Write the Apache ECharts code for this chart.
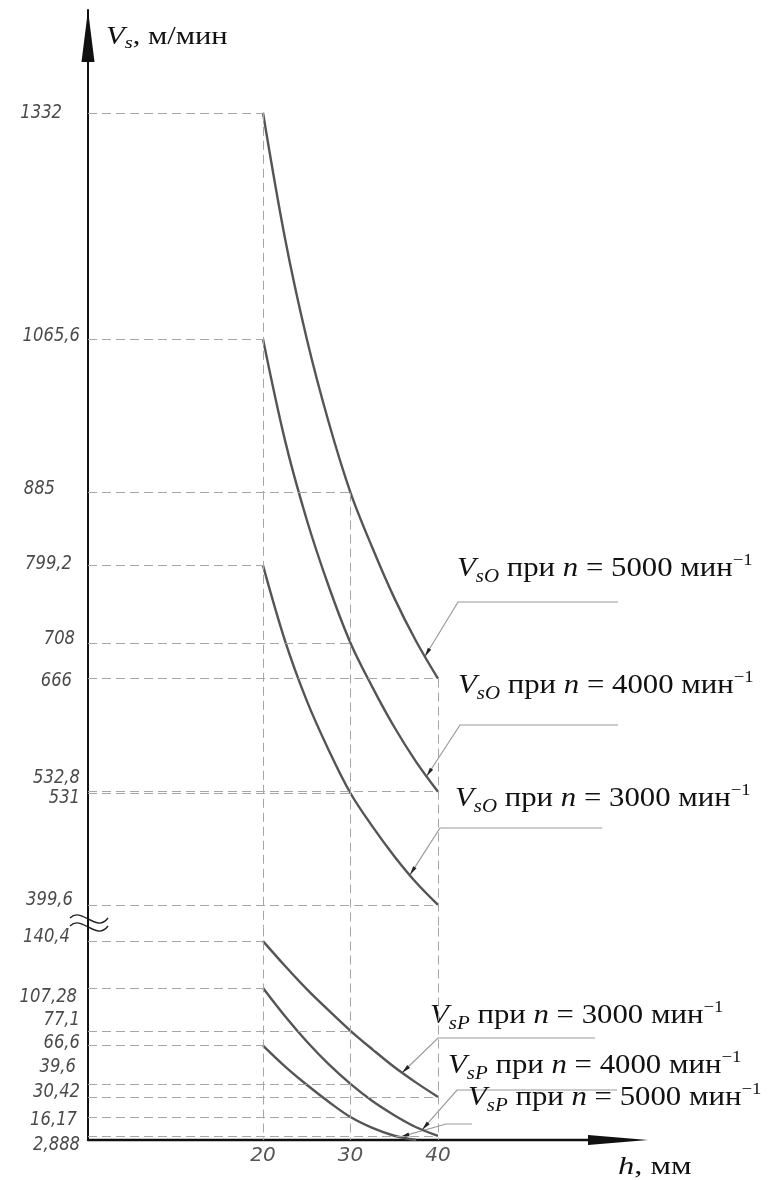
<!DOCTYPE html>
<html lang="ru">
<head>
  <meta charset="UTF-8">
  <meta name="viewport" content="width=device-width, initial-scale=1.0">
  <script src="https://cdn.jsdelivr.net/npm/echarts@6/dist/echarts.min.js"></script>
  <title>Vs(h)</title>
  <style>
    html, body { margin: 0; padding: 0; background: #fff; }
    #chart { width: 773px; height: 1180px; }
  </style>
</head>
<body>
  <div id="chart"></div>
  <script>
    // h, мм
    const h = [20, 22.5, 25, 27.5, 30, 32.5, 35, 37.5, 40];
    // V_sO, м/мин (upper part of the axis)
    const vsO5000 = [1332, 1185, 1066, 968, 885, 820, 761, 710, 666];
    const vsO4000 = [1065.6, 947, 853, 775, 708, 656, 609, 568, 532.8];
    const vsO3000 = [799.2, 711, 640, 582, 531, 492, 457, 426, 399.6];
    // V_sP, м/мин (lower part, below the break)
    const vsP3000 = [140.4, 123, 106.5, 91.5, 77.1, 64, 51.5, 40.5, 30.42];
    const vsP4000 = [107.28, 87.5, 69.5, 53.5, 39.6, 27.5, 17.5, 9, 2.888];
    const vsP5000 = [66.6, 52, 39, 27, 16.17, 8.5, 3, 0, null];

    // marked values and the h where their dashed guide ends
    const upperTicks = [1332, 1065.6, 885, 799.2, 708, 666, 532.8, 531, 399.6];
    const upperTickEnd = [20, 20, 30, 20, 30, 40, 40, 30, 40];
    const lowerTicks = [140.4, 107.28, 77.1, 66.6, 39.6, 30.42, 16.17, 2.888];
    const lowerTickEnd = [20, 20, 30, 20, 30, 40, 30, 40];
    const xTicks = [20, 30, 40];
    // vertical guides: h and the value they start from
    const vGuideH = [20, 30, 40];
    const vGuideTop = [1332, 885, 666];

    // layout only: label nudges (px) and right edges
    const upperShift = [0, -3, -4, -2, -4, 2, -14, 5, -5];
    const upperRight = [62, 80, 55, 72, 75, 72, 80, 80, 73];
    const lowerShift = [-4, 9, -11, -3, -17, -5, 3, 9];
    const lowerRight = [70, 77, 80, 80, 76, 80, 77, 80];

    const TOP_Y = [373, 1453];
    const BOT_Y = [0, 150];
    const X_MAX = 60;

    const chart = echarts.init(document.getElementById('chart'));
    const DASH = { type: [9, 5], color: '#a6a6a6', width: 1 };
    const INK = '#111';
    const SERIF = "'Liberation Serif', 'Times New Roman', serif";

    function curve(name, vals, g) {
      return {
        name: name, type: 'line', xAxisIndex: g, yAxisIndex: g,
        data: h.map((x, i) => [x, vals[i]]),
        smooth: 0.35, symbol: 'none', silent: true, z: 3,
        lineStyle: { color: '#555', width: 2.4 }
      };
    }

    function guides(g, ticks, ends, yLow, yHigh) {
      const lines = ticks.map((v, i) => [{ coord: [0, v] }, { coord: [ends[i], v] }]);
      vGuideH.forEach((x, i) => {
        lines.push([{ coord: [x, g === 0 ? vGuideTop[i] : yHigh] }, { coord: [x, yLow] }]);
      });
      return {
        type: 'line', xAxisIndex: g, yAxisIndex: g, data: [], silent: true, z: 1,
        markLine: { silent: true, symbol: ['none', 'none'], label: { show: false },
          lineStyle: DASH, animation: false, data: lines }
      };
    }

    const noAxisBits = { axisTick: { show: false }, splitLine: { show: false } };

    chart.setOption({
      animation: false,
      backgroundColor: '#fff',
      grid: [
        { left: 88, width: 525, top: 10, height: 917.5 },
        { left: 88, width: 525, top: 927.5, height: 212.5 }
      ],
      xAxis: [
        { gridIndex: 0, type: 'value', min: 0, max: X_MAX, show: false },
        Object.assign({
          gridIndex: 1, type: 'value', min: 0, max: X_MAX, interval: 10,
          axisLine: { show: true, symbol: ['none', 'triangle'], symbolSize: [10, 60], symbolOffset: [0, 5],
            lineStyle: { color: INK, width: 2.4 } },
          axisLabel: { formatter: v => xTicks.includes(v) ? String(v) : '',
            fontFamily: 'DejaVu Sans', fontStyle: 'italic', fontSize: 20, color: '#555', margin: 6 }
        }, noAxisBits)
      ],
      yAxis: [
        Object.assign({
          gridIndex: 0, type: 'value', min: TOP_Y[0], max: TOP_Y[1],
          axisLine: { show: true, symbol: ['none', 'triangle'], symbolSize: [13, 52], symbolOffset: [0, -26],
            lineStyle: { color: INK, width: 2 } },
          axisLabel: { show: false }
        }, noAxisBits),
        Object.assign({
          gridIndex: 1, type: 'value', min: BOT_Y[0], max: BOT_Y[1],
          axisLine: { show: true, lineStyle: { color: INK, width: 2 } },
          axisLabel: { show: false }
        }, noAxisBits)
      ],
      series: [
        guides(0, upperTicks, upperTickEnd, TOP_Y[0], TOP_Y[1]),
        guides(1, lowerTicks, lowerTickEnd, BOT_Y[0], BOT_Y[1]),
        curve('V_sO n=5000', vsO5000, 0),
        curve('V_sO n=4000', vsO4000, 0),
        curve('V_sO n=3000', vsO3000, 0),
        curve('V_sP n=3000', vsP3000, 1),
        curve('V_sP n=4000', vsP4000, 1),
        curve('V_sP n=5000', vsP5000, 1)
      ]
    });

    // ---- texts, leaders, axis break ----
    const px = (g, x, y) => chart.convertToPixel({ gridIndex: g }, [x, y]);
    const tickText = v => String(v).replace('.', ',');
    const elements = [];

    function tickLabel(right, y, text) {
      return {
        type: 'text', x: right, y: y, scaleX: 0.82, silent: true,
        style: { text: text, fontFamily: 'DejaVu Sans', fontStyle: 'italic', fontSize: 20,
          fill: '#4a4a4a', align: 'right', verticalAlign: 'middle' }
      };
    }
    upperTicks.forEach((v, i) => {
      elements.push(tickLabel(upperRight[i], px(0, 0, v)[1] + upperShift[i], tickText(v)));
    });
    lowerTicks.forEach((v, i) => {
      elements.push(tickLabel(lowerRight[i], px(1, 0, v)[1] + lowerShift[i], tickText(v)));
    });

    function richStyle(size) {
      return {
        i: { fontFamily: SERIF, fontSize: size, fontStyle: 'italic', fill: INK, lineHeight: size + 6 },
        r: { fontFamily: SERIF, fontSize: size, fill: INK, lineHeight: size + 6 },
        sub: { fontFamily: SERIF, fontSize: Math.round(size * 0.68), fontStyle: 'italic', fill: INK,
          lineHeight: Math.round(size * 0.64), verticalAlign: 'bottom' },
        sup: { fontFamily: SERIF, fontSize: Math.round(size * 0.62), fill: INK,
          lineHeight: Math.round(size * 0.62), verticalAlign: 'top' }
      };
    }
    function richText(x, y, text, size, sx) {
      return {
        type: 'text', x: x, y: y, scaleX: sx, silent: true,
        style: { text: text, rich: richStyle(size), align: 'left', verticalAlign: 'middle', fill: INK }
      };
    }

    elements.push(richText(106, 37, '{i|V}{sub|s}{r|, м/мин}', 25, 1.22));
    elements.push(richText(618, 1167, '{i|h}{r|, мм}', 25, 1.3));

    const notes = [
      { sub: 'sO', n: '5000', x: 457, y: 569, under: [618, 458, 602], g: 0, at: [38.5, 692] },
      { sub: 'sO', n: '4000', x: 458, y: 686, under: [618, 460, 725], g: 0, at: [38.7, 551] },
      { sub: 'sO', n: '3000', x: 455, y: 799, under: [602, 440, 828], g: 0, at: [36.8, 435] },
      { sub: 'sP', n: '3000', x: 430, y: 1016, under: [595, 438, 1038], g: 1, at: [35.9, 47.5] },
      { sub: 'sP', n: '4000', x: 448, y: 1066, under: [617, 457, 1090], g: 1, at: [38.2, 7.3] },
      { sub: 'sP', n: '5000', x: 468, y: 1098, under: [472, 446, 1124], g: 1, at: [35.7, 2.2] }
    ];
    notes.forEach(nt => {
      elements.push(richText(nt.x, nt.y,
        '{i|V}{sub|' + nt.sub + '}{r| при }{i|n}{r| = ' + nt.n + ' мин}{sup|−1}', 28, 1.1));
      const t = px(nt.g, nt.at[0], nt.at[1]);
      const p = [nt.under[1], nt.under[2]];
      elements.push({
        type: 'polyline', silent: true,
        shape: { points: [[nt.under[0], nt.under[2]], p, t] },
        style: { stroke: '#9a9a9a', lineWidth: 1.2, fill: null }
      });
      const len = Math.hypot(t[0] - p[0], t[1] - p[1]);
      const ux = (t[0] - p[0]) / len, uy = (t[1] - p[1]) / len;
      const bx = t[0] - ux * 9, by = t[1] - uy * 9;
      elements.push({
        type: 'polygon', silent: true,
        shape: { points: [t, [bx - uy * 2, by + ux * 2], [bx + uy * 2, by - ux * 2]] },
        style: { fill: '#222' }
      });
    });

    // axis break mark
    [0, 8].forEach(d => {
      elements.push({
        type: 'bezierCurve', silent: true,
        shape: { x1: 70, y1: 918 + d, cpx1: 82, cpy1: 906 + d, cpx2: 96, cpy2: 934 + d, x2: 108, y2: 918 + d },
        style: { stroke: '#222', lineWidth: 1.4, fill: null }
      });
    });

    chart.setOption({ graphic: { elements: elements } });
  </script>
</body>
</html>
